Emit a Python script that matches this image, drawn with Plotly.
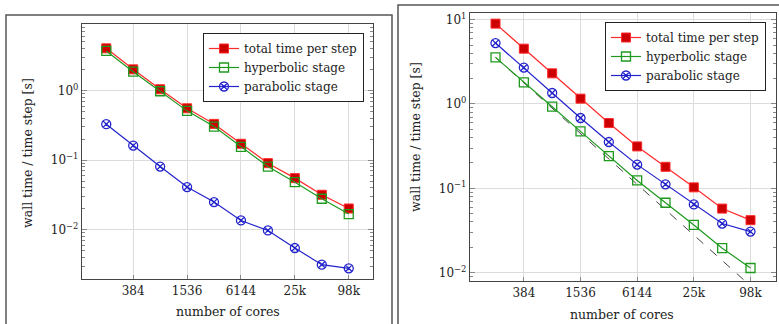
import math
import plotly.graph_objects as go

cores = [192, 384, 768, 1536, 3072, 6144, 12288, 24576, 49152, 98304]
tick_vals = [384, 1536, 6144, 24576, 98304]
tick_text = ["384", "1536", "6144", "25k", "98k"]

# Left chart
left_total = [4.05, 2.02, 1.045, 0.557, 0.332, 0.172, 0.0906, 0.0552, 0.0318, 0.0202]
left_hyper = [3.71, 1.87, 0.978, 0.511, 0.304, 0.155, 0.081, 0.0483, 0.0279, 0.0168]
left_para = [0.329, 0.162, 0.081, 0.0410, 0.0250, 0.0136, 0.00977, 0.00546, 0.00315, 0.00279]

# Right chart
right_total = [8.97, 4.53, 2.31, 1.157, 0.594, 0.314, 0.180, 0.1027, 0.0575, 0.0419]
right_hyper = [3.57, 1.80, 0.929, 0.474, 0.2415, 0.124, 0.0674, 0.0368, 0.0195, 0.01135]
right_para = [5.28, 2.70, 1.35, 0.682, 0.354, 0.191, 0.1115, 0.0645, 0.0382, 0.0307]
ideal_start = 3.57
ideal = [ideal_start * cores[0] / c for c in cores]

FONT = "DejaVu Serif"
RED_LINE = "#ff2a2a"
RED_FILL = "#cc0000"
GREEN = "#1f9a1f"
BLUE = "#2323cc"

W, H = 779, 324

fig = go.Figure()

def add_series(xa, ya, legend, total, hyper, para, dashed=None):
    if dashed is not None:
        fig.add_trace(go.Scatter(x=cores, y=dashed, mode="lines", xaxis=xa, yaxis=ya,
                                 line=dict(color="#444", width=1, dash="dash"),
                                 showlegend=False, hoverinfo="skip"))
    fig.add_trace(go.Scatter(x=cores, y=total, mode="lines+markers", xaxis=xa, yaxis=ya,
                             name="total time per step", legend=legend,
                             line=dict(color=RED_LINE, width=1.2),
                             marker=dict(symbol="square", size=9, color=RED_FILL,
                                         line=dict(color=RED_LINE, width=1))))
    fig.add_trace(go.Scatter(x=cores, y=hyper, mode="lines+markers", xaxis=xa, yaxis=ya,
                             name="hyperbolic stage", legend=legend,
                             line=dict(color=GREEN, width=1.2),
                             marker=dict(symbol="square-open", size=9, color=GREEN,
                                         line=dict(color=GREEN, width=1.3))))
    fig.add_trace(go.Scatter(x=cores, y=para, mode="lines+markers", xaxis=xa, yaxis=ya,
                             name="parabolic stage", legend=legend,
                             line=dict(color=BLUE, width=1.2),
                             marker=dict(symbol="circle-x-open", size=9, color=BLUE,
                                         line=dict(color=BLUE, width=1.3))))

add_series("x", "y", "legend", left_total, left_hyper, left_para)
add_series("x2", "y2", "legend2", right_total, right_hyper, right_para, dashed=ideal)

xr = [math.log10(cores[0]) - 0.9 * math.log10(2), math.log10(cores[-1]) + 0.9 * math.log10(2)]

def xaxis(domain):
    return dict(type="log", domain=domain, range=xr, tickvals=tick_vals, ticktext=tick_text,
                showgrid=True, gridcolor="#dcdcdc", gridwidth=1,
                showline=True, linecolor="#444", linewidth=1.3, mirror=True,
                ticks="inside", ticklen=4, tickcolor="#888",
                tickfont=dict(family=FONT, size=12, color="#222"),
                zeroline=False, automargin=False)

def yaxis(domain, rng, anchor):
    decs = [d for d in range(-3, 2) if rng[0] <= d <= rng[1]]
    return dict(type="log", domain=domain, range=rng, anchor=anchor,
                tickvals=[10 ** d for d in decs],
                ticktext=["10<sup>%d</sup>" % d if d >= 0 else "10<sup>\u2212%d</sup>" % (-d) for d in decs],
                showgrid=True, gridcolor="#dcdcdc", gridwidth=1,
                showline=True, linecolor="#444", linewidth=1.3, mirror="allticks",
                ticks="inside", ticklen=5, tickcolor="#888",
                minor=dict(ticks="inside", ticklen=3, tickcolor="#888", dtick="D1", showgrid=False),
                tickfont=dict(family=FONT, size=12, color="#222"),
                zeroline=False, automargin=False)

fig.update_layout(
    width=W, height=H,
    margin=dict(l=0, r=0, t=0, b=0),
    paper_bgcolor="white", plot_bgcolor="white",
    font=dict(family=FONT, size=12, color="#222"),
    xaxis=dict(**xaxis([82 / W, 373 / W]), anchor="y"),
    yaxis=yaxis([(H - 279) / H, (H - 24) / H], [-2.708, 0.957], "x"),
    xaxis2=dict(**xaxis([470 / W, 776 / W]), anchor="y2"),
    yaxis2=yaxis([(H - 281) / H, (H - 13) / H], [-2.099, 1.079], "x2"),
    legend=dict(x=364 / W, y=(H - 33) / H, xanchor="right", yanchor="top",
                bgcolor="white", bordercolor="#222", borderwidth=1,
                font=dict(family=FONT, size=12, color="#222"),
                tracegroupgap=0, itemwidth=30),
    legend2=dict(x=766 / W, y=(H - 22) / H, xanchor="right", yanchor="top",
                 bgcolor="white", bordercolor="#222", borderwidth=1,
                 font=dict(family=FONT, size=12, color="#222"),
                 tracegroupgap=0, itemwidth=30),
    showlegend=True,
)

# outer panel frames
fig.add_shape(type="rect", xref="paper", yref="paper",
              x0=6 / W, x1=392 / W, y0=-0.1, y1=(H - 15) / H,
              line=dict(color="#555", width=1.5), fillcolor="rgba(0,0,0,0)", layer="below")
fig.add_shape(type="rect", xref="paper", yref="paper",
              x0=398 / W, x1=1.1, y0=-0.1, y1=(H - 5) / H,
              line=dict(color="#555", width=1.5), fillcolor="rgba(0,0,0,0)", layer="below")

# axis titles
ann = dict(xref="paper", yref="paper", showarrow=False, xanchor="center", yanchor="middle",
           font=dict(family=FONT, size=12.5, color="#222"))
fig.add_annotation(text="number of cores", x=228 / W, y=(H - 311) / H, **ann)
fig.add_annotation(text="number of cores", x=622 / W, y=(H - 314) / H, **ann)
fig.add_annotation(text="wall time / time step [s]", x=27 / W, y=(H - 153) / H, textangle=-90, **ann)
fig.add_annotation(text="wall time / time step [s]", x=415 / W, y=(H - 137) / H, textangle=-90, **ann)

fig.write_html("out.html")
